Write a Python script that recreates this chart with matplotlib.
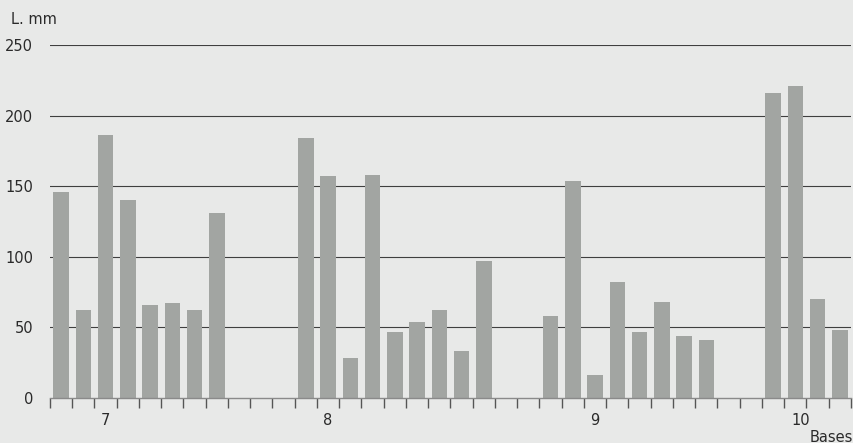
import matplotlib.pyplot as plt
import numpy as np

# bar lengths (mm), one list per base group; None = empty slot between groups
group_7 = [146, 62, 186, 140, 66, 67, 62, 131]
group_8 = [184, 157, 28, 158, 47, 54, 62, 33, 97]
group_9 = [58, 154, 16, 82, 47, 68, 44, 41]
group_10 = [216, 221, 70, 48]
gap_after = [3, 2, 2, 0]

group_names = ['7', '8', '9', '10']
group_label_pos = [2, 12, 24, 33.25]
y_ticks = [0, 50, 100, 150, 200, 250]

BG = '#e8e9e8'
BAR = '#a2a5a2'
TXT = '#2a2a2a'

values = []
for grp, gap in zip([group_7, group_8, group_9, group_10], gap_after):
    values += grp + [None] * gap
slots = np.arange(len(values))

fig = plt.figure(figsize=(8.54, 4.43), dpi=100, facecolor=BG)
ax = fig.add_axes([50 / 854, 45 / 443, 801 / 854, 353 / 443])
ax.set_facecolor(BG)

xs = [s for s, v in zip(slots, values) if v is not None]
hs = [v for v in values if v is not None]
ax.bar(xs, hs, width=0.69, color=BAR, zorder=2)

ax.set_xlim(-0.5, len(values) - 0.5)
ax.set_ylim(0, 250)

for y in y_ticks[1:]:
    ax.axhline(y, color='#3f3f3f', lw=0.8, zorder=1)

for side in ['top', 'right', 'left']:
    ax.spines[side].set_visible(False)
ax.spines['bottom'].set_color('#8a8a8a')
ax.spines['bottom'].set_linewidth(1.0)

ax.set_yticks(y_ticks)
ax.set_yticklabels([str(t) for t in y_ticks], fontsize=10.5, color=TXT)
ax.tick_params(axis='y', length=0, pad=12)

ax.set_xticks(np.arange(len(values) + 1) - 0.5)
ax.set_xticklabels([])
ax.tick_params(axis='x', direction='out', length=7, width=1.0, color='#555555')

trans = ax.get_xaxis_transform()
for name, pos in zip(group_names, group_label_pos):
    ax.text(pos, -0.065, name, transform=trans, ha='center', va='center',
            fontsize=10.5, color=TXT)

fig.text(11 / 854, 1 - 19 / 443, 'L. mm', ha='left', va='center',
         fontsize=10.5, color=TXT)
fig.text(853 / 854, 1 - 437 / 443, 'Bases', ha='right', va='center',
         fontsize=10.5, color=TXT)

fig.savefig('out.png', dpi=100, facecolor=BG)
